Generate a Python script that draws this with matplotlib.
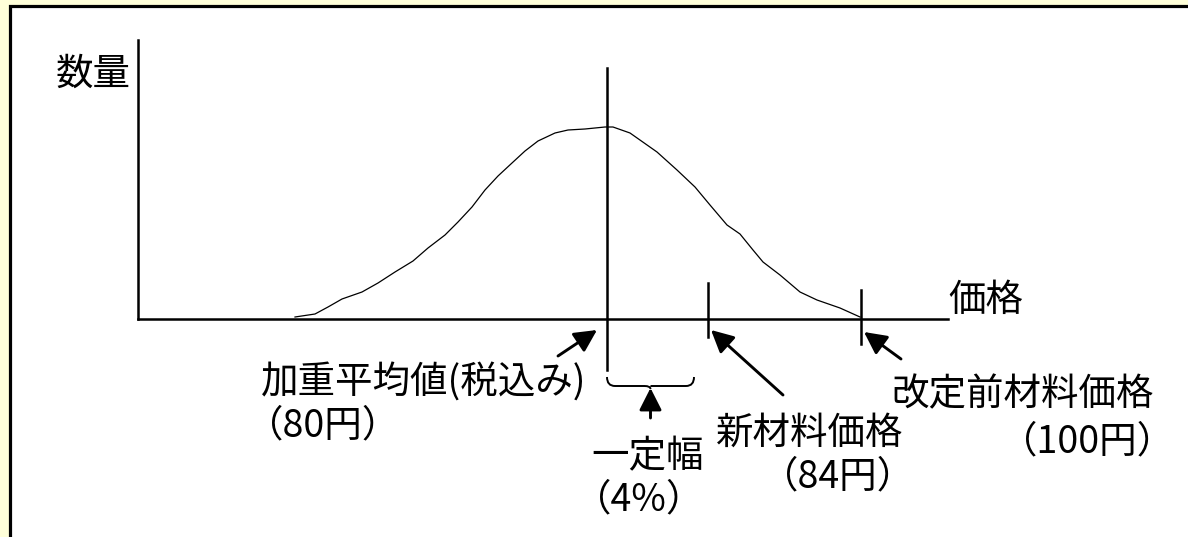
import matplotlib
matplotlib.use('Agg')
import matplotlib.pyplot as plt
from matplotlib.patches import Rectangle, PathPatch
from matplotlib.path import Path

plt.rcParams['font.family'] = ['Noto Sans CJK JP', 'DejaVu Sans']

# distribution curve (position along price axis, quantity above axis)
price_pos = [295, 315, 328, 342, 362, 378, 395, 413, 428, 445, 458, 472, 485, 498,
             512, 525, 538, 555, 568, 585, 605, 613, 630, 657, 677, 695, 710, 727,
             740, 753, 763, 780, 800, 817, 840, 860]
quantity = [2, 5, 12, 20, 27, 36, 47, 58, 71, 84, 97, 112, 129, 143,
            156, 168, 178, 186, 189, 190, 192, 192, 186, 167, 149, 132, 114, 94,
            85, 69, 57, 44, 27, 19, 11, 2]

# axis frame in pixels
x0, y0 = 138, 319
x_end = 948
y_top = 40

avg_x, new_x, old_x = 607, 708, 861

fig = plt.figure(figsize=(11.88, 5.37), dpi=100)
fig.patch.set_facecolor('#ffffd9')
ax = fig.add_axes([0, 0, 1, 1])
ax.set_xlim(0, 1188)
ax.set_ylim(537, 0)
ax.axis('off')

ax.add_patch(Rectangle((9.5, 6), 1300, 700, facecolor='white', edgecolor='black', lw=2.3))

lw_axis = 1.8
ax.plot([x0, x0], [y_top, y0], color='black', lw=lw_axis)
ax.plot([x0, x_end], [y0, y0], color='black', lw=lw_axis)

ax.plot(price_pos, [y0 - q for q in quantity], color='black', lw=0.9)

ax.plot([avg_x, avg_x], [68, 370], color='black', lw=lw_axis)
ax.plot([new_x, new_x], [283, 337], color='black', lw=lw_axis)
ax.plot([old_x, old_x], [290, 344], color='black', lw=lw_axis)

# brace under the width
bl, br, bt, bb = 607, 694, 377, 386
mid = (bl + br) / 2
verts = [(bl, bt), (bl, bb), (bl + 8, bb),
         (mid - 6, bb), (mid, bb), (mid, bb + 3),
         (mid, bb), (mid + 6, bb),
         (br - 8, bb), (br, bb), (br, bt)]
codes = [Path.MOVETO, Path.CURVE3, Path.CURVE3,
         Path.LINETO, Path.CURVE3, Path.CURVE3,
         Path.MOVETO, Path.LINETO,
         Path.LINETO, Path.CURVE3, Path.CURVE3]
ax.add_patch(PathPatch(Path(verts, codes), facecolor='none', edgecolor='black', lw=1.4))

arrow = dict(arrowstyle='-|>,head_length=0.75,head_width=0.38', color='black',
             lw=2.1, mutation_scale=18, shrinkA=0, shrinkB=0)
ax.annotate('', xy=(597, 330), xytext=(558, 356), arrowprops=arrow)
ax.annotate('', xy=(mid, bb + 2), xytext=(mid, 418), arrowprops=arrow)
ax.annotate('', xy=(711, 330), xytext=(783, 395), arrowprops=arrow)
ax.annotate('', xy=(864, 332), xytext=(901, 359), arrowprops=arrow)

fs = 27
ax.text(56, 74, '数量', fontsize=fs, ha='left', va='center')
ax.text(948, 300, '価格', fontsize=fs, ha='left', va='center')
ax.text(261, 383, '加重平均値(税込み)', fontsize=fs, ha='left', va='center')
ax.text(246, 426, '（80円）', fontsize=fs, ha='left', va='center')
ax.text(591, 457, '一定幅', fontsize=fs, ha='left', va='center')
ax.text(574, 500, '（4%）', fontsize=fs, ha='left', va='center')
ax.text(716, 433, '新材料価格', fontsize=fs, ha='left', va='center')
ax.text(761, 477, '（84円）', fontsize=fs, ha='left', va='center')
ax.text(891, 395, '改定前材料価格', fontsize=fs, ha='left', va='center')
ax.text(1000, 442, '（100円）', fontsize=fs, ha='left', va='center')

fig.savefig('out.png', dpi=100, facecolor=fig.get_facecolor())
